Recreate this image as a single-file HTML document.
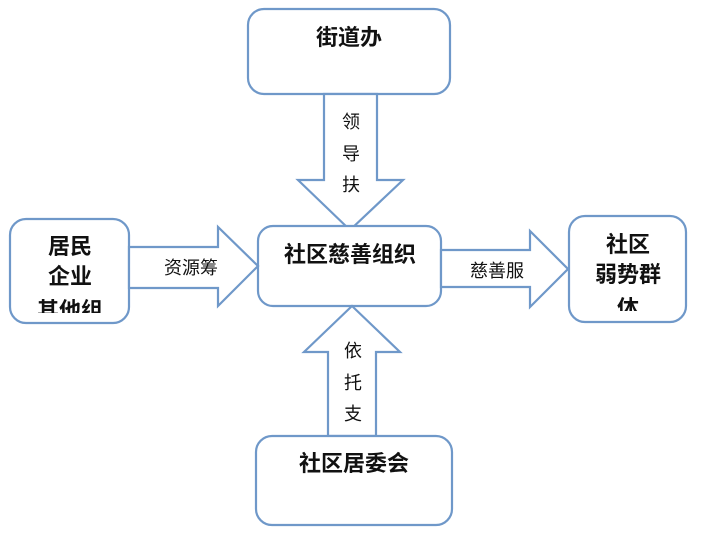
<!DOCTYPE html>
<html><head><meta charset="utf-8"><style>
html,body{margin:0;padding:0;background:#fff;}
svg text{font-family:"Liberation Sans","Noto Sans CJK SC",sans-serif;fill:#111;}
</style></head><body>
<svg width="716" height="538" viewBox="0 0 716 538" xmlns="http://www.w3.org/2000/svg">
<defs><clipPath id="cl"><rect x="11" y="220" width="117" height="93"/></clipPath>
<clipPath id="cr"><rect x="570" y="217" width="115" height="94"/></clipPath></defs>
<g fill="#fff" stroke="#6f98c9" stroke-width="2.2">
<rect x="248" y="9" width="202" height="85" rx="16"/>
<polygon points="324,94 377,94 377,180 403,180 350,230 298,180 324,180"/>
<rect x="258" y="226" width="183" height="80" rx="15"/>
<rect x="10" y="219" width="119" height="104" rx="16"/>
<polygon points="129,247 218,247 218,227 258,266 218,306 218,288 129,288"/>
<polygon points="441,250 530,250 530,231 568,269 530,307 530,287 441,287"/>
<rect x="569" y="216" width="117" height="106" rx="16"/>
<polygon points="352,306 400,352 376,352 376,436 328,436 328,352 304,352"/>
<rect x="256" y="436" width="196" height="89" rx="16"/>
</g>
<g font-weight="bold" font-size="22" text-anchor="middle">
<text x="349" y="45">街道办</text>
<text x="350" y="262">社区慈善组织</text>
<g clip-path="url(#cl)">
<text x="70" y="254">居民</text>
<text x="70" y="284">企业</text>
<text x="70" y="318">其他组</text>
</g>
<g clip-path="url(#cr)">
<text x="628" y="252">社区</text>
<text x="628" y="282">弱势群</text>
<text x="628" y="316">体</text>
</g>
<text x="354" y="471">社区居委会</text>
</g>
<g font-size="18" text-anchor="middle">
<text x="351" y="128">领</text>
<text x="351" y="160">导</text>
<text x="351" y="191">扶</text>
<text x="191" y="274">资源筹</text>
<text x="497" y="277">慈善服</text>
<text x="353" y="357">依</text>
<text x="353" y="389">托</text>
<text x="353" y="420">支</text>
</g>
</svg>
</body></html>
